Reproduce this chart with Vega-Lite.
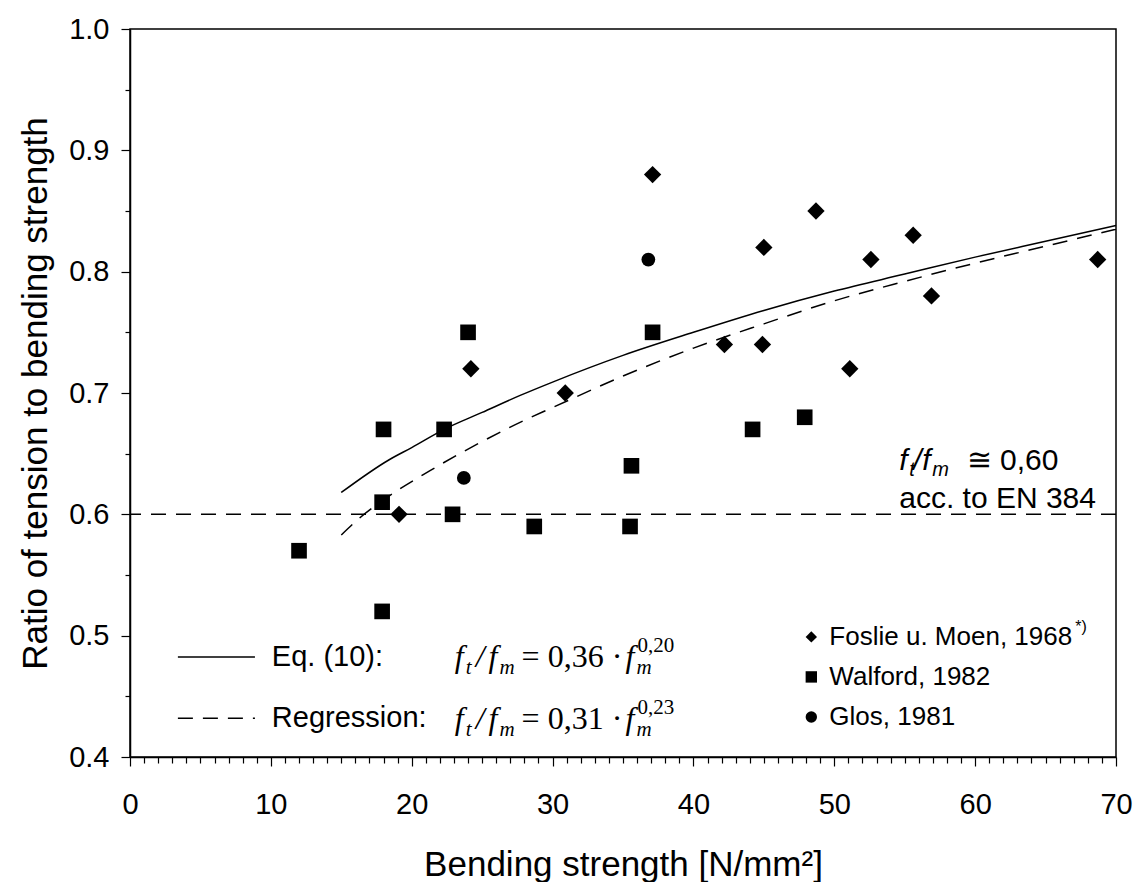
{
  "$schema": "https://vega.github.io/schema/vega-lite/v6.json",
  "width": 986,
  "height": 728,
  "autosize": {"type": "none"},
  "padding": {"left": 130, "top": 29, "right": 20, "bottom": 125},
  "background": "white",
  "config": {
    "view": {"stroke": "black", "strokeWidth": 1.5},
    "font": "Liberation Sans",
    "text": {"color": "black", "font": "Liberation Sans"}
  },
  "datasets": {
    "points": [
      {"x": 19.1, "y": 0.60, "src": "Foslie u. Moen, 1968"},
      {"x": 24.2, "y": 0.72, "src": "Foslie u. Moen, 1968"},
      {"x": 30.9, "y": 0.70, "src": "Foslie u. Moen, 1968"},
      {"x": 37.1, "y": 0.88, "src": "Foslie u. Moen, 1968"},
      {"x": 42.2, "y": 0.74, "src": "Foslie u. Moen, 1968"},
      {"x": 44.9, "y": 0.74, "src": "Foslie u. Moen, 1968"},
      {"x": 45.0, "y": 0.82, "src": "Foslie u. Moen, 1968"},
      {"x": 48.7, "y": 0.85, "src": "Foslie u. Moen, 1968"},
      {"x": 51.1, "y": 0.72, "src": "Foslie u. Moen, 1968"},
      {"x": 52.6, "y": 0.81, "src": "Foslie u. Moen, 1968"},
      {"x": 55.6, "y": 0.83, "src": "Foslie u. Moen, 1968"},
      {"x": 56.9, "y": 0.78, "src": "Foslie u. Moen, 1968"},
      {"x": 68.7, "y": 0.81, "src": "Foslie u. Moen, 1968"},
      {"x": 12.0, "y": 0.57, "src": "Walford, 1982"},
      {"x": 17.9, "y": 0.52, "src": "Walford, 1982"},
      {"x": 17.9, "y": 0.61, "src": "Walford, 1982"},
      {"x": 18.0, "y": 0.67, "src": "Walford, 1982"},
      {"x": 22.3, "y": 0.67, "src": "Walford, 1982"},
      {"x": 22.9, "y": 0.60, "src": "Walford, 1982"},
      {"x": 24.0, "y": 0.75, "src": "Walford, 1982"},
      {"x": 28.7, "y": 0.59, "src": "Walford, 1982"},
      {"x": 35.5, "y": 0.59, "src": "Walford, 1982"},
      {"x": 35.6, "y": 0.64, "src": "Walford, 1982"},
      {"x": 37.1, "y": 0.75, "src": "Walford, 1982"},
      {"x": 44.2, "y": 0.67, "src": "Walford, 1982"},
      {"x": 47.9, "y": 0.68, "src": "Walford, 1982"},
      {"x": 23.7, "y": 0.63, "src": "Glos, 1981"},
      {"x": 36.8, "y": 0.81, "src": "Glos, 1981"}
    ],
    "curves": [
      {"x": 15, "y": 0.618, "curve": "Eq. (10)"},
      {"x": 18.4, "y": 0.645, "curve": "Eq. (10)"},
      {"x": 20, "y": 0.655, "curve": "Eq. (10)"},
      {"x": 22.3, "y": 0.670, "curve": "Eq. (10)"},
      {"x": 25, "y": 0.684, "curve": "Eq. (10)"},
      {"x": 27.7, "y": 0.698, "curve": "Eq. (10)"},
      {"x": 30, "y": 0.709, "curve": "Eq. (10)"},
      {"x": 35, "y": 0.731, "curve": "Eq. (10)"},
      {"x": 40, "y": 0.750, "curve": "Eq. (10)"},
      {"x": 45, "y": 0.768, "curve": "Eq. (10)"},
      {"x": 50, "y": 0.784, "curve": "Eq. (10)"},
      {"x": 55, "y": 0.798, "curve": "Eq. (10)"},
      {"x": 60, "y": 0.812, "curve": "Eq. (10)"},
      {"x": 65, "y": 0.825, "curve": "Eq. (10)"},
      {"x": 70, "y": 0.838, "curve": "Eq. (10)"},
      {"x": 15, "y": 0.583, "curve": "Regression"},
      {"x": 16.3, "y": 0.597, "curve": "Regression"},
      {"x": 18, "y": 0.612, "curve": "Regression"},
      {"x": 21.3, "y": 0.636, "curve": "Regression"},
      {"x": 25, "y": 0.660, "curve": "Regression"},
      {"x": 27.9, "y": 0.677, "curve": "Regression"},
      {"x": 30, "y": 0.688, "curve": "Regression"},
      {"x": 34.8, "y": 0.713, "curve": "Regression"},
      {"x": 40, "y": 0.737, "curve": "Regression"},
      {"x": 45, "y": 0.757, "curve": "Regression"},
      {"x": 50, "y": 0.776, "curve": "Regression"},
      {"x": 55, "y": 0.792, "curve": "Regression"},
      {"x": 60, "y": 0.807, "curve": "Regression"},
      {"x": 65, "y": 0.821, "curve": "Regression"},
      {"x": 70, "y": 0.835, "curve": "Regression"}
    ],
    "legendSymbols": [
      {"x": 48.37, "y": 0.499, "src": "Foslie u. Moen, 1968"},
      {"x": 48.37, "y": 0.466, "src": "Walford, 1982"},
      {"x": 48.37, "y": 0.433, "src": "Glos, 1981"}
    ],
    "legendLabels": [
      {"x": 49.65, "y": 0.499, "label": "Foslie u. Moen, 1968"},
      {"x": 49.65, "y": 0.466, "label": "Walford, 1982"},
      {"x": 49.65, "y": 0.433, "label": "Glos, 1981"}
    ],
    "legendSup": [
      {"x": 67.1, "y": 0.499, "label": "*)"}
    ],
    "lineSamples": [
      {"x": 3.4, "x2": 8.87, "y": 0.4824, "curve": "Eq. (10)"},
      {"x": 3.4, "x2": 8.87, "y": 0.432, "curve": "Regression"}
    ],
    "lineLabels": [
      {"x": 10.07, "y": 0.4824, "label": "Eq. (10):"},
      {"x": 10.07, "y": 0.432, "label": "Regression:"}
    ],
    "eqItalic": [
      {"x": 23.05, "y": 0.4742, "t": "f"},
      {"x": 24.54, "y": 0.4742, "t": "/"},
      {"x": 25.46, "y": 0.4742, "t": "f"},
      {"x": 35.18, "y": 0.4742, "t": "f"},
      {"x": 23.05, "y": 0.4231, "t": "f"},
      {"x": 24.54, "y": 0.4231, "t": "/"},
      {"x": 25.46, "y": 0.4231, "t": "f"},
      {"x": 35.18, "y": 0.4231, "t": "f"}
    ],
    "eqSub": [
      {"x": 23.83, "y": 0.4742, "t": "t"},
      {"x": 26.24, "y": 0.4742, "t": "m"},
      {"x": 35.96, "y": 0.4742, "t": "m"},
      {"x": 23.83, "y": 0.4231, "t": "t"},
      {"x": 26.24, "y": 0.4231, "t": "m"},
      {"x": 35.96, "y": 0.4231, "t": "m"}
    ],
    "eqOp": [
      {"x": 27.8, "y": 0.4742, "t": "= 0,36 ·"},
      {"x": 27.8, "y": 0.4231, "t": "= 0,31 ·"}
    ],
    "eqSup": [
      {"x": 36.03, "y": 0.4742, "t": "0,20"},
      {"x": 36.03, "y": 0.4231, "t": "0,23"}
    ],
    "noteItalic": [
      {"x": 54.61, "y": 0.6365, "t": "f"},
      {"x": 55.6, "y": 0.6365, "t": "/"},
      {"x": 56.24, "y": 0.6365, "t": "f"}
    ],
    "noteSub": [
      {"x": 55.32, "y": 0.6365, "t": "t"},
      {"x": 56.95, "y": 0.6365, "t": "m"}
    ],
    "noteText": [
      {"x": 59.4, "y": 0.6365, "t": "≅ 0,60"},
      {"x": 54.61, "y": 0.6052, "t": "acc. to EN 384"}
    ]
  },
  "layer": [
    {
      "data": {"name": "points"},
      "mark": {"type": "point", "filled": true, "opacity": 1, "color": "black"},
      "encoding": {
        "x": {
          "field": "x", "type": "quantitative",
          "scale": {"domain": [0, 70], "nice": false, "zero": false},
          "axis": {
            "title": "Bending strength [N/mm²]",
            "values": [0,1,2,3,4,5,6,7,8,9,10,11,12,13,14,15,16,17,18,19,20,21,22,23,24,25,26,27,28,29,30,31,32,33,34,35,36,37,38,39,40,41,42,43,44,45,46,47,48,49,50,51,52,53,54,55,56,57,58,59,60,61,62,63,64,65,66,67,68,69,70],
            "tickCount": 200,
            "labelExpr": "datum.value % 10 === 0 ? format(datum.value, 'd') : ''",
            "tickSize": {"condition": {"test": "datum.value % 10 === 0", "value": 9}, "value": 6},
            "labelOverlap": false,
            "labelFlush": false,
            "labelFontSize": 29,
            "labelFont": "Liberation Sans",
            "labelColor": "black",
            "labelPadding": 24,
            "titleFontSize": 35,
            "titleFont": "Liberation Sans",
            "titleFontWeight": "normal",
            "titleColor": "black",
            "titlePadding": 28,
            "domainColor": "black",
            "domainWidth": 1.5,
            "tickColor": "black",
            "tickWidth": 1.2,
            "grid": false
          }
        },
        "y": {
          "field": "y", "type": "quantitative",
          "scale": {"domain": [0.4, 1.0], "nice": false, "zero": false},
          "axis": {
            "title": "Ratio of tension to bending strength",
            "values": [0.4,0.45,0.5,0.55,0.6,0.65,0.7,0.75,0.8,0.85,0.9,0.95,1.0],
            "tickCount": 100,
            "labelExpr": "abs(datum.value*10 - round(datum.value*10)) < 0.001 ? format(datum.value, '.1f') : ''",
            "tickSize": {"condition": {"test": "abs(datum.value*10 - round(datum.value*10)) < 0.001", "value": 9}, "value": 5},
            "labelOverlap": false,
            "labelFlush": false,
            "labelFontSize": 29,
            "labelFont": "Liberation Sans",
            "labelColor": "black",
            "labelPadding": 12,
            "titleFontSize": 35,
            "titleFont": "Liberation Sans",
            "titleFontWeight": "normal",
            "titleColor": "black",
            "titlePadding": 15,
            "domainColor": "black",
            "domainWidth": 1.5,
            "tickColor": "black",
            "tickWidth": 1.2,
            "grid": false
          }
        },
        "shape": {
          "field": "src", "type": "nominal",
          "scale": {"domain": ["Foslie u. Moen, 1968", "Walford, 1982", "Glos, 1981"], "range": ["diamond", "square", "circle"]},
          "legend": null
        },
        "size": {
          "field": "src", "type": "nominal",
          "scale": {"domain": ["Foslie u. Moen, 1968", "Walford, 1982", "Glos, 1981"], "range": [300, 190, 190]},
          "legend": null
        }
      }
    },
    {
      "data": {"values": [{"y": 0.6}]},
      "mark": {"type": "rule", "color": "black", "strokeWidth": 1.5, "strokeDash": [15, 10]},
      "encoding": {"y": {"field": "y", "type": "quantitative"}}
    },
    {
      "data": {"name": "curves"},
      "transform": [{"filter": "datum.curve === 'Eq. (10)'"}],
      "mark": {"type": "line", "color": "black", "strokeWidth": 1.5, "interpolate": "monotone"},
      "encoding": {
        "x": {"field": "x", "type": "quantitative"},
        "y": {"field": "y", "type": "quantitative"}
      }
    },
    {
      "data": {"name": "curves"},
      "transform": [{"filter": "datum.curve === 'Regression'"}],
      "mark": {"type": "line", "color": "black", "strokeWidth": 1.5, "interpolate": "monotone", "strokeDash": [15, 10]},
      "encoding": {
        "x": {"field": "x", "type": "quantitative"},
        "y": {"field": "y", "type": "quantitative"}
      }
    },
    {
      "data": {"name": "lineSamples"},
      "transform": [{"filter": "datum.curve === 'Eq. (10)'"}],
      "mark": {"type": "rule", "color": "black", "strokeWidth": 1.5},
      "encoding": {
        "x": {"field": "x", "type": "quantitative"},
        "x2": {"field": "x2"},
        "y": {"field": "y", "type": "quantitative"}
      }
    },
    {
      "data": {"name": "lineSamples"},
      "transform": [{"filter": "datum.curve === 'Regression'"}],
      "mark": {"type": "rule", "color": "black", "strokeWidth": 1.5, "strokeDash": [15, 10]},
      "encoding": {
        "x": {"field": "x", "type": "quantitative"},
        "x2": {"field": "x2"},
        "y": {"field": "y", "type": "quantitative"}
      }
    },
    {
      "data": {"name": "legendSymbols"},
      "mark": {"type": "point", "filled": true, "opacity": 1, "color": "black", "size": 130},
      "encoding": {
        "x": {"field": "x", "type": "quantitative"},
        "y": {"field": "y", "type": "quantitative"},
        "shape": {"field": "src", "type": "nominal", "legend": null}
      }
    },
    {
      "data": {"name": "legendLabels"},
      "mark": {"type": "text", "align": "left", "baseline": "middle", "fontSize": 26, "font": "Liberation Sans", "color": "black"},
      "encoding": {
        "x": {"field": "x", "type": "quantitative"},
        "y": {"field": "y", "type": "quantitative"},
        "text": {"field": "label"}
      }
    },
    {
      "data": {"name": "legendSup"},
      "mark": {"type": "text", "align": "left", "baseline": "middle", "fontSize": 16, "dy": -10, "font": "Liberation Sans", "color": "black"},
      "encoding": {
        "x": {"field": "x", "type": "quantitative"},
        "y": {"field": "y", "type": "quantitative"},
        "text": {"field": "label"}
      }
    },
    {
      "data": {"name": "lineLabels"},
      "mark": {"type": "text", "align": "left", "baseline": "middle", "fontSize": 29, "font": "Liberation Sans", "color": "black"},
      "encoding": {
        "x": {"field": "x", "type": "quantitative"},
        "y": {"field": "y", "type": "quantitative"},
        "text": {"field": "label"}
      }
    },
    {
      "data": {"name": "eqItalic"},
      "mark": {"type": "text", "align": "left", "baseline": "alphabetic", "fontSize": 32, "font": "Liberation Serif", "fontStyle": "italic", "color": "black"},
      "encoding": {
        "x": {"field": "x", "type": "quantitative"},
        "y": {"field": "y", "type": "quantitative"},
        "text": {"field": "t"}
      }
    },
    {
      "data": {"name": "eqSub"},
      "mark": {"type": "text", "align": "left", "baseline": "alphabetic", "fontSize": 21, "dy": 7, "font": "Liberation Serif", "fontStyle": "italic", "color": "black"},
      "encoding": {
        "x": {"field": "x", "type": "quantitative"},
        "y": {"field": "y", "type": "quantitative"},
        "text": {"field": "t"}
      }
    },
    {
      "data": {"name": "eqOp"},
      "mark": {"type": "text", "align": "left", "baseline": "alphabetic", "fontSize": 32, "font": "Liberation Serif", "color": "black"},
      "encoding": {
        "x": {"field": "x", "type": "quantitative"},
        "y": {"field": "y", "type": "quantitative"},
        "text": {"field": "t"}
      }
    },
    {
      "data": {"name": "eqSup"},
      "mark": {"type": "text", "align": "left", "baseline": "alphabetic", "fontSize": 21, "dy": -15, "font": "Liberation Serif", "color": "black"},
      "encoding": {
        "x": {"field": "x", "type": "quantitative"},
        "y": {"field": "y", "type": "quantitative"},
        "text": {"field": "t"}
      }
    },
    {
      "data": {"name": "noteItalic"},
      "mark": {"type": "text", "align": "left", "baseline": "alphabetic", "fontSize": 30, "font": "Liberation Sans", "fontStyle": "italic", "color": "black"},
      "encoding": {
        "x": {"field": "x", "type": "quantitative"},
        "y": {"field": "y", "type": "quantitative"},
        "text": {"field": "t"}
      }
    },
    {
      "data": {"name": "noteSub"},
      "mark": {"type": "text", "align": "left", "baseline": "alphabetic", "fontSize": 20, "dy": 6, "font": "Liberation Sans", "fontStyle": "italic", "color": "black"},
      "encoding": {
        "x": {"field": "x", "type": "quantitative"},
        "y": {"field": "y", "type": "quantitative"},
        "text": {"field": "t"}
      }
    },
    {
      "data": {"name": "noteText"},
      "mark": {"type": "text", "align": "left", "baseline": "alphabetic", "fontSize": 30, "font": "Liberation Sans", "color": "black"},
      "encoding": {
        "x": {"field": "x", "type": "quantitative"},
        "y": {"field": "y", "type": "quantitative"},
        "text": {"field": "t"}
      }
    }
  ]
}
